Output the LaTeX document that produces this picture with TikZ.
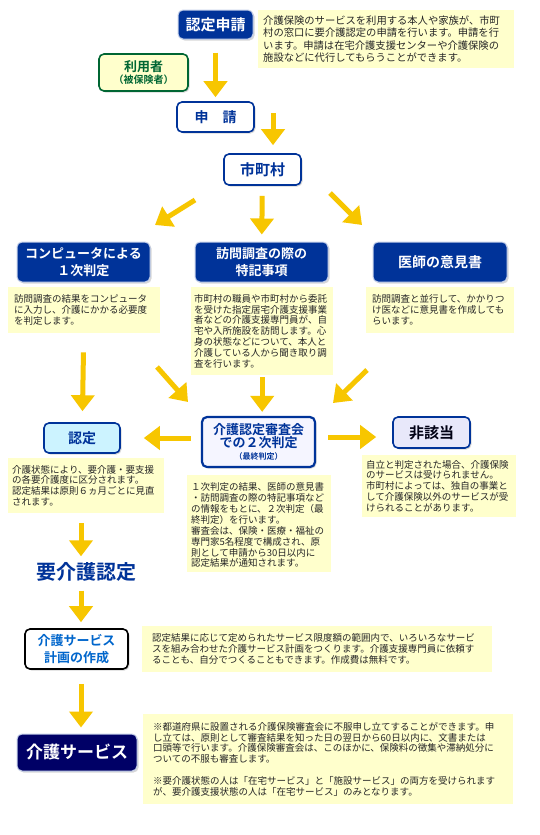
\documentclass[tikz,border=0pt]{standalone}
\usepackage{fontspec}
\setmainfont{Noto Sans CJK JP}[BoldFont={* Bold}]
\usetikzlibrary{arrows.meta,positioning,shadows}
\definecolor{dblue}{HTML}{003399}
\definecolor{navy}{HTML}{000066}
\definecolor{notebg}{HTML}{FFFFCC}
\definecolor{gold}{HTML}{F7C600}
\definecolor{dgreen}{HTML}{006633}
\definecolor{rim}{HTML}{C5D0EA}
\definecolor{pale}{HTML}{CCF3FF}
\definecolor{lav}{HTML}{E8E8FA}
\definecolor{sky}{HTML}{0066CC}
\newcommand\fsz[2]{\fontsize{#1}{#2}\selectfont}

\begin{document}
\begin{tikzpicture}[x=1pt,y=-1pt,
	shade/.style={drop shadow={shadow xshift=1.5pt,shadow yshift=-1.5pt,fill=black!30}},
	dbox/.style={shade,rounded corners=5pt,fill=dblue,draw=rim,line width=1pt,text=white,align=center,inner sep=0pt},
	wbox/.style={shade,rounded corners=5pt,fill=white,draw=dblue,line width=1.6pt,text=dblue,align=center,inner sep=0pt},
	notebox/.style={fill=notebg,anchor=north west,align=left,inner sep=4pt,text=black!85,font=\fsz{9.5}{10.9}},
	flow/.style={color=gold,line width=5pt,-{Triangle[width=23pt,length=16pt]}}]
	\fill[white] (0,0) rectangle (540,835);
	\useasboundingbox (0,0) rectangle (540,835);

	\node[dbox,minimum width=75pt,minimum height=29pt,font=\bfseries\fsz{15}{17}] (n_req) at (215.5,24.5) {認定申請};
	\node[notebox,text width=246pt,minimum height=58pt,inner xsep=5pt,font=\fsz{10.3}{12.5}] (d_req) at (258,10)
		{介護保険のサービスを利用する本人や家族が、市町\\村の窓口に要介護認定の申請を行います。申請を行\\います。申請は在宅介護支援センターや介護保険の\\施設などに代行してもらうことができます。};
	\node[wbox,fill=notebg,draw=dgreen,text=dgreen,minimum width=89pt,minimum height=37pt,font=\bfseries] (n_user) at (143.5,72.5)
		{{\fsz{13}{14}利用者}\\{\fsz{10}{12}（被保険者）}};
	\node[wbox,minimum width=77pt,minimum height=30pt,font=\bfseries\fsz{14}{16}] (n_app) at (215.5,117) {申　請};
	\node[wbox,minimum width=77pt,minimum height=31pt,font=\bfseries\fsz{15}{17}] (n_city) at (262.5,169.5) {市町村};

	\node[dbox,minimum width=133pt,minimum height=40pt,font=\bfseries\fsz{13}{17}] (n_comp) at (83.5,262) {コンピュータによる\\１次判定};
	\node[dbox,minimum width=133pt,minimum height=40pt,font=\bfseries\fsz{13}{17}] (n_visit) at (261.5,262) {訪問調査の際の\\特記事項};
	\node[dbox,minimum width=134pt,minimum height=40pt,font=\bfseries\fsz{14}{17}] (n_doc) at (440,262) {医師の意見書};
	\node[notebox,text width=140pt,minimum height=46pt,inner xsep=6pt] (d_comp) at (8,287)
		{訪問調査の結果をコンピュータ\\に入力し、介護にかかる必要度\\を判定します。};
	\node[notebox,text width=136pt,minimum height=88pt,inner xsep=3pt] (d_visit) at (191,287)
		{市町村の職員や市町村から委託\\を受けた指定居宅介護支援事業\\者などの介護支援専門員が、自\\宅や入所施設を訪問します。心\\身の状態などについて、本人と\\介護している人から聞き取り調\\査を行います。};
	\node[notebox,text width=136pt,minimum height=46pt,inner xsep=6pt] (d_doc) at (366,287)
		{訪問調査と並行して、かかりつ\\け医などに意見書を作成しても\\らいます。};

	\node[wbox,fill=blue!4,line width=2.2pt,minimum width=113pt,minimum height=50pt,font=\bfseries] (n_board) at (258.5,442)
		{{\fsz{13}{15}介護認定審査会}\\{\fsz{13}{15}での２次判定}\\{\fsz{8}{10}（最終判定）}};
	\node[notebox,text width=136pt,minimum height=97pt] (d_board) at (187,475)
		{\hspace{0.4em}１次判定の結果、医師の意見書\\・訪問調査の際の特記事項など\\の情報をもとに、２次判定（最\\終判定）を行います。\\審査会は、保険・医療・福祉の\\専門家5名程度で構成され、原\\則として申請から30日以内に\\認定結果が通知されます。};
	\node[wbox,fill=pale,minimum width=76pt,minimum height=30pt,font=\bfseries\fsz{14}{16}] (n_cert) at (82,438) {認定};
	\node[notebox,text width=148pt,minimum height=55pt] (d_cert) at (8,458)
		{介護状態により、要介護・要支援\\の各要介護度に区分されます。\\認定結果は原則６ヵ月ごとに見直\\されます。};
	\node[wbox,fill=lav,text=black!80!navy,minimum width=77pt,minimum height=31pt,font=\bfseries\fsz{15}{17}] (n_nonc) at (431.5,432.5) {非該当};
	\node[notebox,text width=146pt,minimum height=62pt] (d_nonc) at (362,455)
		{自立と判定された場合、介護保険\\のサービスは受けられません。\\市町村によっては、独自の事業と\\して介護保険以外のサービスが受\\けられることがあります。};

	\node[text=dblue,inner sep=0pt,font=\bfseries\fsz{20}{22}] (n_level) at (86,572) {要介護認定};
	\node[wbox,draw=black,text=sky,minimum width=103pt,minimum height=40pt,font=\bfseries\fsz{13}{17}] (n_plan) at (76.5,649) {介護サービス\\計画の作成};
	\node[notebox,text width=330pt,minimum height=46pt,inner xsep=10pt] (d_plan) at (142,626)
		{認定結果に応じて定められたサービス限度額の範囲内で、いろいろなサービ\\スを組み合わせた介護サービス計画をつくります。介護支援専門員に依頼す\\ることも、自分でつくることもできます。作成費は無料です。};
	\node[dbox,fill=navy,minimum width=120pt,minimum height=37pt,font=\bfseries\fsz{17}{19}] (n_serv) at (77,752.5) {介護サービス};
	\node[notebox,text width=350pt,minimum height=90pt,inner xsep=10pt] (d_serv) at (143,714)
		{※都道府県に設置される介護保険審査会に不服申し立てすることができます。申\\し立ては、原則として審査結果を知った日の翌日から60日以内に、文書または\\口頭等で行います。介護保険審査会は、このほかに、保険料の徴集や滞納処分に\\ついての不服も審査します。\\[10.9pt]※要介護状態の人は「在宅サービス」と「施設サービス」の両方を受けられます\\が、要介護支援状態の人は「在宅サービス」のみとなります。};

	\coordinate (c_a2) at (273,113);
	\coordinate (c_l0) at (195,200);
	\coordinate (c_l1) at (155,225);
	\coordinate (c_r0) at (330,193);
	\coordinate (c_r1) at (362,225);
	\coordinate (c_bl0) at (157,367);
	\coordinate (c_bl1) at (188,402);
	\coordinate (c_br0) at (367,370);
	\coordinate (c_br1) at (333,403);
	\coordinate (c_h) at (328,437);
	\coordinate (c_col) at (81,0);
	\path[flow]
		(n_req) edge[shorten <=13pt,shorten >=4pt] (n_app)
		(c_a2) edge[shorten >=8pt] (c_a2 |- n_city.north)
		(c_l0) edge (c_l1)
		(n_city) edge[shorten <=10pt,shorten >=7pt] (n_visit)
		(c_r0) edge (c_r1)
		(d_comp) edge[shorten <=19pt,shorten >=11pt] (n_cert)
		(c_bl0) edge (c_bl1)
		(d_visit.south) edge[shorten <=2pt,shorten >=4pt] (d_visit.south |- n_board.north)
		(c_br0) edge (c_br1)
		(n_board.west |- n_cert) edge[shorten <=10pt,shorten >=23pt] (n_cert.east)
		(c_h) edge[shorten >=16pt] (c_h -| n_nonc.west)
		(c_col |- d_cert.south) edge[shorten <=10pt,shorten >=6pt] (c_col |- n_level.north)
		(c_col |- n_level.south) edge[shorten <=9pt,shorten >=6pt] (c_col |- n_plan.north)
		(c_col |- n_plan.south) edge[shorten <=14pt,shorten >=6pt] (c_col |- n_serv.north);
\end{tikzpicture}
\end{document}
